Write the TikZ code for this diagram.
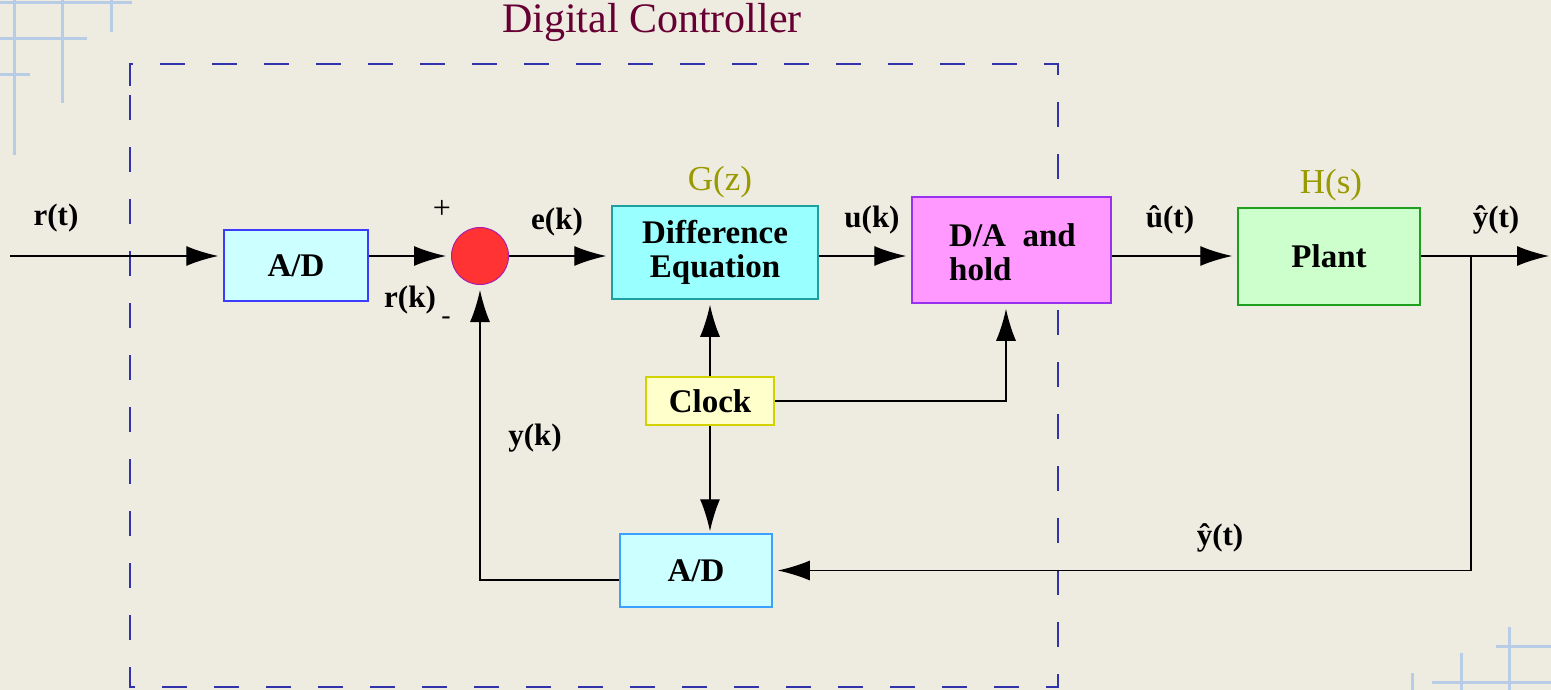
\documentclass[tikz,border=0pt]{standalone}
\usepackage{fontspec}
\setmainfont{Liberation Serif}
\usetikzlibrary{arrows.meta}
\definecolor{bg}{RGB}{238,235,225}
\definecolor{deco}{RGB}{184,204,230}
\definecolor{dashc}{RGB}{50,50,170}
\definecolor{maroon}{RGB}{102,0,51}
\definecolor{olive}{RGB}{153,153,0}
\definecolor{adfill}{RGB}{204,255,255}
\definecolor{adline}{RGB}{60,60,255}
\definecolor{adtwoline}{RGB}{60,160,255}
\definecolor{difffill}{RGB}{153,255,255}
\definecolor{diffline}{RGB}{30,160,160}
\definecolor{dafill}{RGB}{255,153,255}
\definecolor{daline}{RGB}{150,50,240}
\definecolor{plantfill}{RGB}{204,255,204}
\definecolor{plantline}{RGB}{30,160,30}
\definecolor{clkfill}{RGB}{255,255,204}
\definecolor{clkline}{RGB}{210,210,0}
\definecolor{sumfill}{RGB}{255,51,51}
\definecolor{sumline}{RGB}{170,30,170}
\begin{document}
\begin{tikzpicture}[x=1pt,y=-1pt,
  box/.style={draw, line width=1.5pt, inner sep=0pt, font=\fontsize{33}{34}\selectfont\bfseries, align=center},
  lbl/.style={font=\fontsize{31}{33}\selectfont\bfseries, inner sep=0pt},
  ttl/.style={font=\fontsize{35}{37}\selectfont, text=olive, inner sep=0pt},
  arr/.style={-{Latex[length=32pt,width=20pt]}, shorten >=5pt},
  wire/.style={line width=1.4pt, black},
  decoline/.style={deco, line width=3pt},
  dashbox/.style={dashc, line width=1.8pt, dash pattern=on 25pt off 27pt}]
\fill[bg] (0,0) rectangle (1551,690);
\useasboundingbox (0,0) rectangle (1551,690);
% decorative grid lines
\draw[decoline] (0,3) -- (132,3);
\draw[decoline] (0,39) -- (87,39);
\draw[decoline] (0,75) -- (30,75);
\draw[decoline] (14,0) -- (14,155);
\draw[decoline] (62,0) -- (62,103);
\draw[decoline] (111,0) -- (111,32);
\draw[decoline] (1509,627) -- (1509,690);
\draw[decoline] (1496,646) -- (1551,646);
\draw[decoline] (1461,653) -- (1461,690);
\draw[decoline] (1432,682) -- (1551,682);
\draw[decoline] (1412,673) -- (1412,690);
% dashed controller frame
\draw[dashbox] (130,86) -- (130,64) -- (1058,64) -- (1058,687) -- (130,687) -- cycle;
\node[font=\fontsize{42}{44}\selectfont, text=maroon, inner sep=0pt] (title) at (652,22) {Digital Controller};
% blocks
\node[box, fill=adfill, draw=adline, minimum width=144pt, minimum height=71pt] (ad1) at (296,265.5) {A/D};
\node[draw=sumline, fill=sumfill, circle, line width=1pt, minimum size=57pt, inner sep=0pt] (sum) at (480,256) {};
\node[box, fill=difffill, draw=diffline, minimum width=206pt, minimum height=93pt] (diff) at (715,252.5) {Difference\\Equation};
\node[box, fill=dafill, draw=daline, minimum width=199pt, minimum height=106pt] (da) at (1011.5,250) {};
\node[lbl, font=\fontsize{33}{34}\selectfont\bfseries, align=left, anchor=west] (datext) at (949,252) {D/A\ \ and\\hold};
\node[box, fill=plantfill, draw=plantline, minimum width=182pt, minimum height=97pt] (plant) at (1329,256.5) {Plant};
\node[box, fill=clkfill, draw=clkline, minimum width=128pt, minimum height=48pt] (clk) at (710,401) {Clock};
\node[box, fill=adfill, draw=adtwoline, minimum width=152pt, minimum height=73pt] (ad2) at (696,570.5) {A/D};
% labels
\node[lbl] (rt) at (56,218) {r(t)};
\node[font=\fontsize{32}{34}\selectfont, inner sep=0pt] (plus) at (442,209) {+};
\node[font=\fontsize{28}{30}\selectfont, inner sep=0pt] (minus) at (446,321) {-};
\node[lbl] (rk) at (410,300) {r(k)};
\node[lbl] (ek) at (557,222) {e(k)};
\node[ttl] (gz) at (720,182) {G(z)};
\node[lbl] (uk) at (872,220) {u(k)};
\node[lbl] (ut) at (1170,220) {û(t)};
\node[ttl] (hs) at (1331,185) {H(s)};
\node[lbl] (yt) at (1496,220) {ŷ(t)};
\node[lbl] (yk) at (535,438) {y(k)};
\node[lbl] (yt2) at (1220,538) {ŷ(t)};
% coordinates
\coordinate (in) at (10,256);
\coordinate (out) at (1551,256);
\coordinate (br) at (1471,256);
\coordinate (fb) at (480,580);
\coordinate (dab) at (1006,0);
% connectors
\draw[wire, arr] (in) -- (in -| ad1.west);
\draw[wire, arr] (ad1.east |- sum) -- (sum.west);
\draw[wire, arr] (sum.east) -- (sum.east -| diff.west);
\draw[wire, arr] (diff.east |- sum) -- (da.west |- sum);
\draw[wire, arr] (da.east |- sum) -- (plant.west |- sum);
\draw[wire, arr, shorten >=2pt] (plant.east |- sum) -- (out);
\draw[wire, arr] (br) |- (ad2.east);
\draw[wire, arr] (fb -| ad2.west) -| (sum.south);
\draw[wire, arr] (clk.north) -- (clk.north |- diff.south);
\draw[wire, arr] (clk.east) -| (dab |- da.south);
\draw[wire, arr, shorten >=2pt] (clk.south) -- (clk.south |- ad2.north);
\end{tikzpicture}
\end{document}
